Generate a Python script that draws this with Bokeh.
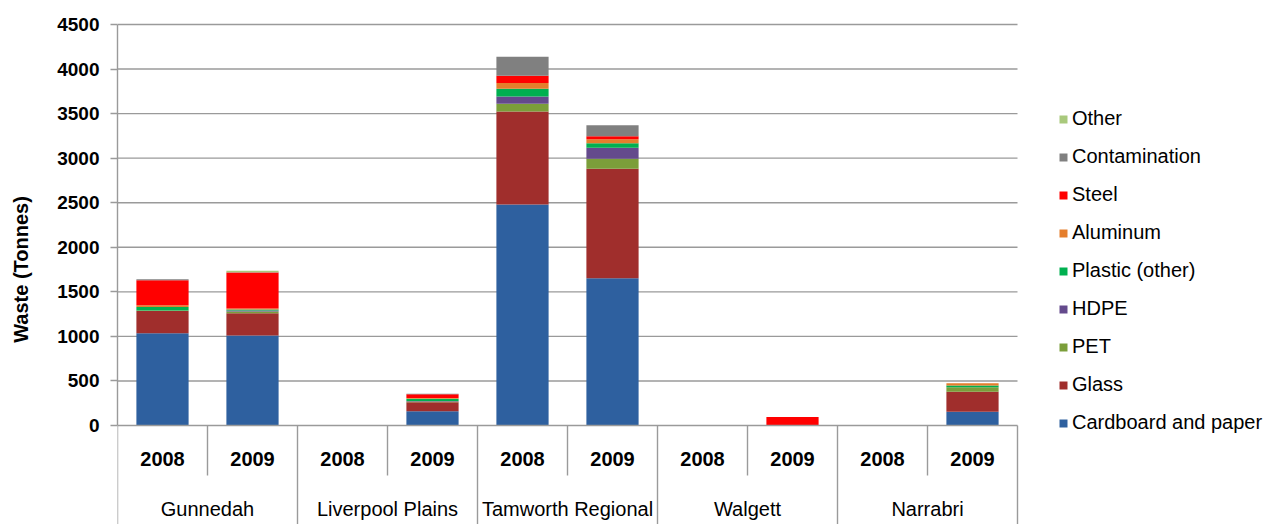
from bokeh.plotting import figure
from bokeh.models import ColumnDataSource, Range1d, Legend, LegendItem, FixedTicker
from bokeh.core.properties import value
from bokeh.embed import file_html
from bokeh.resources import INLINE

# Councils and reporting years
councils = ["Gunnedah", "Liverpool Plains", "Tamworth Regional", "Walgett", "Narrabri"]
years = ["2008", "2009"]

# Recycled waste by material (tonnes), one value per council/year pair
cardboard = [1035, 1010, 0, 160, 2480, 1653, 0, 0, 0, 155]
glass = [250, 250, 0, 100, 1044, 1228, 0, 0, 0, 225]
pet = [5, 20, 0, 10, 86, 112, 0, 0, 0, 50]
hdpe = [0, 10, 0, 5, 82, 123, 0, 0, 0, 0]
plastic_other = [40, 12, 0, 25, 87, 52, 0, 0, 0, 20]
aluminum = [20, 10, 0, 10, 65, 45, 0, 0, 0, 25]
steel = [280, 404, 0, 40, 80, 34, 0, 95, 0, 0]
contamination = [10, 5, 0, 5, 215, 123, 0, 0, 0, 0]
other = [0, 15, 0, 0, 0, 0, 0, 0, 0, 0]

materials = ["Cardboard and paper", "Glass", "PET", "HDPE", "Plastic (other)",
             "Aluminum", "Steel", "Contamination", "Other"]
series = [cardboard, glass, pet, hdpe, plastic_other, aluminum, steel, contamination, other]
colors = ["#2E609F", "#A02E2C", "#7B9E3A", "#644A8C", "#00B050",
          "#E57E2C", "#FF0000", "#808080", "#A9C97C"]

y_ticks = [0, 500, 1000, 1500, 2000, 2500, 3000, 3500, 4000, 4500]

# one slot per council/year pair, slot i is centred on i + 0.5
pairs = [(c, y) for c in councils for y in years]
n = len(pairs)
slot_x = [i + 0.5 for i in range(n)]
group_x = [2 * g + 1.0 for g in range(len(councils))]

data = {"x": slot_x}
for name, vals in zip(materials, series):
    data[name] = vals
source = ColumnDataSource(data)

FONT = value("Liberation Sans")
GRID = "#9a9a9a"
W, H = 1274, 524
LEFT, TOP = 117, 14
SLOT_PX = 90.0

# tonnes per screen pixel, used to extend the range below zero for the category table
t_per_px = 4500 / 401.0
y_bottom = -99 * t_per_px
y_top = 4500 + 10 * t_per_px
x_end = (W - LEFT) / SLOT_PX  # room on the right for the legend

p = figure(width=W, height=H, output_backend="svg", toolbar_location=None,
           x_range=Range1d(0, x_end), y_range=Range1d(y_bottom, y_top),
           min_border_left=LEFT, min_border_right=0, min_border_top=TOP,
           min_border_bottom=0)
p.outline_line_color = None
p.background_fill_color = "white"
p.border_fill_color = "white"

p.xaxis.visible = False
p.xgrid.visible = False
p.ygrid.visible = False

# horizontal gridlines only across the bar area
p.segment(x0=[0] * len(y_ticks[1:]), y0=y_ticks[1:], x1=[n] * len(y_ticks[1:]),
          y1=y_ticks[1:], line_color=GRID, line_width=1.4)

yax = p.yaxis[0]
yax.ticker = FixedTicker(ticks=y_ticks)
yax.bounds = (0, 4500)
yax.axis_line_color = GRID
yax.axis_line_width = 1.4
yax.major_tick_line_color = GRID
yax.major_tick_line_width = 1.4
yax.major_tick_out = 7
yax.major_tick_in = 0
yax.minor_tick_line_color = None
yax.major_label_standoff = 11
yax.major_label_text_font = "Liberation Sans"
yax.major_label_text_font_size = "19px"
yax.major_label_text_font_style = "bold"
yax.major_label_text_color = "black"
yax.axis_label = "Waste (Tonnes)"
yax.axis_label_text_font = "Liberation Sans"
yax.axis_label_text_font_size = "20px"
yax.axis_label_text_font_style = "bold"
yax.axis_label_text_color = "black"
yax.axis_label_standoff = 22

renderers = p.vbar_stack(materials, x="x", width=0.58, color=colors, line_color=None,
                         source=source)

# category table below the bars
p.segment(x0=[0], y0=[0], x1=[n], y1=[0], line_color=GRID, line_width=1.4)
year_sep = [i for i in range(1, n, 2)]
p.segment(x0=year_sep, y0=[0] * len(year_sep), x1=year_sep,
          y1=[-50 * t_per_px] * len(year_sep), line_color=GRID, line_width=1.4)
group_sep = [i for i in range(0, n + 1, 2)]
p.segment(x0=group_sep, y0=[0] * len(group_sep), x1=group_sep,
          y1=[y_bottom] * len(group_sep), line_color=GRID, line_width=1.4)

p.text(x=slot_x, y=[-33 * t_per_px] * n, text=[pr[1] for pr in pairs],
       text_font=FONT, text_font_size="20px", text_font_style="bold",
       text_align="center", text_baseline="middle", text_color="black")
p.text(x=group_x, y=[-83 * t_per_px] * len(councils), text=councils,
       text_font=FONT, text_font_size="20px",
       text_align="center", text_baseline="middle", text_color="black")

items = [LegendItem(label=m, renderers=[r]) for m, r in zip(materials, renderers)]
legend = Legend(items=items[::-1], location=(941, 90), orientation="vertical",
                glyph_width=10, glyph_height=10, label_height=20, spacing=15,
                label_standoff=4, padding=0, margin=0,
                border_line_color=None, background_fill_alpha=0,
                label_text_font="Liberation Sans", label_text_font_size="20px",
                label_text_color="black")
p.add_layout(legend)

open("out.html", "w").write(file_html(p, INLINE))
